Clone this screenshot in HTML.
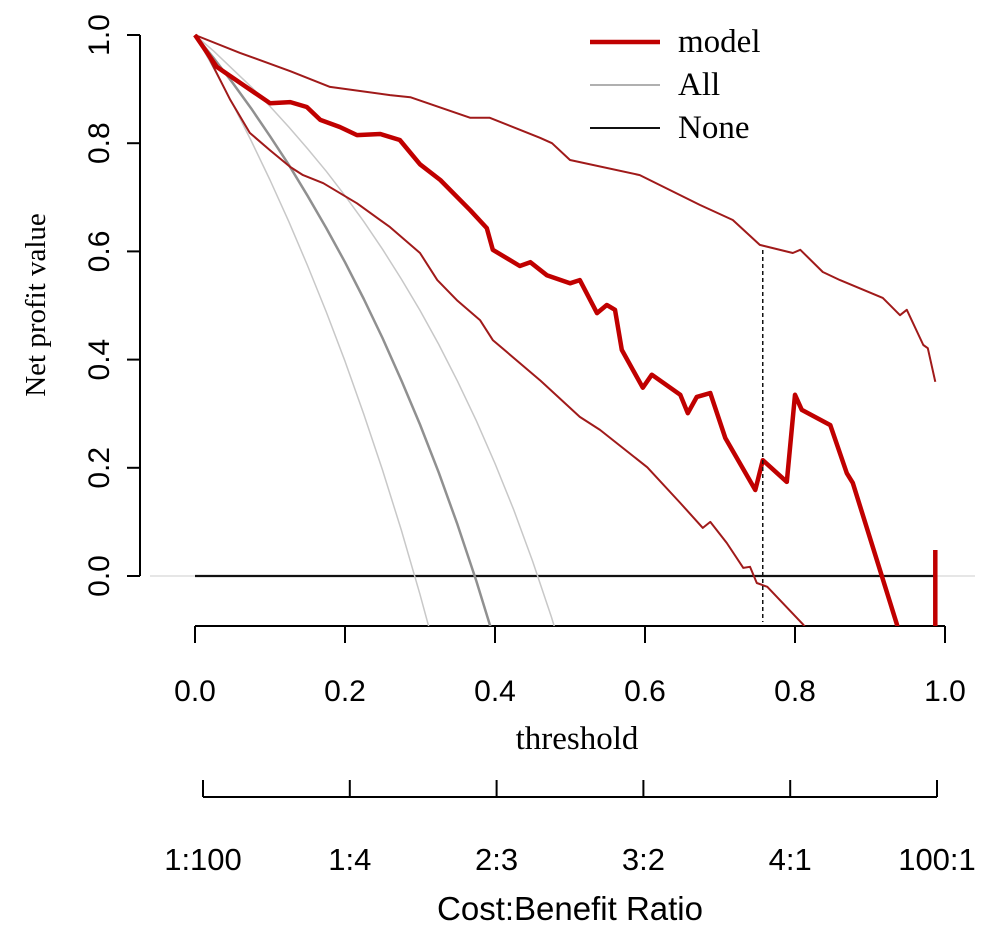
<!DOCTYPE html>
<html><head><meta charset="utf-8"><style>
html,body{margin:0;background:#fff;overflow:hidden;width:987px;height:931px}
svg{display:block}
svg text{font-family:"Liberation Sans",sans-serif}
.serif{font-family:"Liberation Serif",serif}
</style></head><body>
<svg id="c" width="987" height="931" viewBox="0 0 987 931" xmlns="http://www.w3.org/2000/svg">
<defs><clipPath id="plotclip"><rect x="140" y="20" width="840" height="606"/></clipPath></defs>
<g id="axes"></g>
<g id="series" clip-path="url(#plotclip)"></g>
<g id="legend"></g>
</svg>
<script>
const xTicks=[0,0.2,0.4,0.6,0.8,1.0];
const xTickLabels=["0.0","0.2","0.4","0.6","0.8","1.0"];
const yTicks=[0,0.2,0.4,0.6,0.8,1.0];
const yTickLabels=["0.0","0.2","0.4","0.6","0.8","1.0"];
const ratioLabels=["1:100","1:4","2:3","3:2","4:1","100:1"];
const modelT=[0,.029,.1,.127,.149,.167,.193,.216,.247,.273,.3,.327,.367,.389,.397,.433,.447,.469,.5,.513,.536,.549,.56,.569,.597,.609,.647,.657,.669,.687,.707,.747,.757,.789,.8,.809,.847,.869,.877,.936,.95,.987,.987];
const modelV=[1,.941,.874,.876,.867,.843,.830,.815,.817,.806,.761,.732,.676,.643,.603,.573,.580,.556,.541,.547,.486,.501,.492,.418,.348,.372,.335,.301,.331,.338,.255,.159,.214,.174,.335,.307,.279,.190,.172,-.09,-.2,-.2,.048];
const upperT=[0,.06,.127,.18,.26,.287,.367,.393,.46,.476,.5,.593,.673,.717,.753,.797,.807,.837,.86,.917,.94,.949,.971,.977,.987];
const upperV=[1,.967,.933,.904,.889,.885,.847,.847,.81,.80,.769,.741,.686,.658,.612,.597,.603,.562,.547,.514,.482,.492,.427,.421,.359];
const lowerT=[0,.02,.047,.073,.1,.127,.144,.171,.216,.26,.3,.323,.349,.38,.397,.46,.513,.54,.603,.647,.677,.687,.709,.731,.74,.749,.763,.811,.84];
const lowerV=[1,.954,.88,.819,.787,.756,.741,.726,.689,.645,.597,.547,.51,.473,.436,.362,.294,.27,.201,.135,.089,.1,.061,.015,.017,-.013,-.02,-.09,-.14];
const allT=[0,.025,.05,.075,.1,.125,.15,.175,.2,.225,.25,.275,.3,.325,.35,.375,.4,.425,.45,.475,.5];
const allV=[1,.957,.912,.864,.813,.760,.703,.643,.580,.512,.440,.362,.280,.191,.095,-.009,-.121,-.24,-.37,-.51,-.65];
const allLowV=[1,.938,.873,.804,.732,.655,.574,.488,.397,.299,.196,.085,-.034,-.162,-.30,-.45,-.6,-.78,-.95,-1.1,-1.3];
const allHighV=[1,.970,.937,.904,.868,.830,.790,.748,.703,.655,.604,.549,.491,.428,.360,.287,.208,.122,.028,-.075,-.188];
const cutoff=0.757;
const sx=t=>195+t*750, sy=v=>576-v*541;
const NS="http://www.w3.org/2000/svg";
function mk(tag,attrs,parent){const e=document.createElementNS(NS,tag);for(const k in attrs)e.setAttribute(k,attrs[k]);parent.appendChild(e);return e;}
const ax=document.getElementById('axes'),se=document.getElementById('series'),lg=document.getElementById('legend');
function path(T,V,stroke,w,name){const d=T.map((t,i)=>(i?'L':'M')+sx(t).toFixed(1)+' '+sy(V[i]).toFixed(1)).join(' ');
const p=mk('path',{d:d,fill:'none',stroke:stroke,'stroke-width':w,'stroke-linejoin':'round'},se);

return p;}
let z=mk('line',{x1:150,x2:975,y1:sy(0),y2:sy(0),stroke:'#ddd','stroke-width':1.5},se);


path([0,0.987],[0,0],'#111',2.2,'none-line');
path(allT,allLowV,'#c8c8c8',1.5,'all-lower-ci');
path(allT,allHighV,'#c8c8c8',1.5,'all-upper-ci');
path(allT,allV,'#909090',2.5,'all-line');
path(upperT,upperV,'#a01a1a',2,'model-upper-ci');
path(lowerT,lowerV,'#a01a1a',2,'model-lower-ci');
path(modelT,modelV,'#c00000',4.5,'model-line');
let dl=mk('line',{x1:sx(cutoff),x2:sx(cutoff),y1:250,y2:622,stroke:'#111','stroke-width':1.5,'stroke-dasharray':'4,3'},se);


mk('line',{x1:sx(0),x2:sx(1),y1:626,y2:626,stroke:'#000','stroke-width':2},ax);
xTicks.forEach((t,i)=>{mk('line',{x1:sx(t),x2:sx(t),y1:626,y2:643,stroke:'#000','stroke-width':2},ax);
const tx=mk('text',{x:sx(t),y:701,'text-anchor':'middle','font-size':30},ax);tx.textContent=xTickLabels[i];

});
let xt=mk('text',{x:577,y:749,'text-anchor':'middle','font-size':33,class:'serif'},ax);xt.textContent='threshold';


mk('line',{x1:140,x2:140,y1:sy(0),y2:sy(1),stroke:'#000','stroke-width':2},ax);
yTicks.forEach((v,i)=>{mk('line',{x1:127,x2:140,y1:sy(v),y2:sy(v),stroke:'#000','stroke-width':2},ax);
const tx=mk('text',{x:0,y:0,'text-anchor':'middle','font-size':30,transform:`translate(109,${sy(v)}) rotate(-90)`},ax);tx.textContent=yTickLabels[i];

});
let yt=mk('text',{x:0,y:0,'text-anchor':'middle','font-size':29,class:'serif',transform:'translate(45,305) rotate(-90)'},ax);yt.textContent='Net profit value';


mk('line',{x1:203,x2:937,y1:797,y2:797,stroke:'#000','stroke-width':2},ax);
ratioLabels.forEach((r,i)=>{const x=203+i*146.8;mk('line',{x1:x,x2:x,y1:780,y2:797,stroke:'#000','stroke-width':2},ax);
const tx=mk('text',{x:x,y:870,'text-anchor':'middle','font-size':31},ax);tx.textContent=r;

});
let rt=mk('text',{x:570,y:920,'text-anchor':'middle','font-size':33},ax);rt.textContent='Cost:Benefit Ratio';


[['model','#c00000',4.5],['All','#b0b0b0',2],['None','#111',2]].forEach((e,i)=>{const y=42+i*43;
const l=mk('line',{x1:590,x2:660,y1:y,y2:y,stroke:e[1],'stroke-width':e[2]},lg);


const t=mk('text',{x:678,y:y+10,'font-size':33,class:'serif'},lg);t.textContent=e[0];

});
</script>
</body></html>
